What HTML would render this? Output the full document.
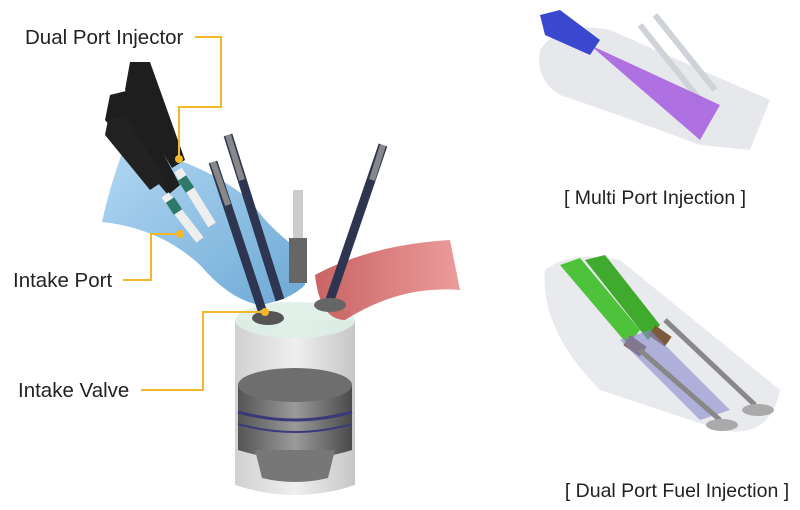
<!DOCTYPE html>
<html><head><meta charset="utf-8"><style>
html,body{margin:0;padding:0;background:#fff;}
svg{display:block;}
text{font-family:"Liberation Sans",sans-serif;fill:#222;}
</style></head><body>
<svg width="800" height="510" viewBox="0 0 800 510" xmlns="http://www.w3.org/2000/svg">
<defs>
<linearGradient id="cyl" x1="0" x2="1"><stop offset="0" stop-color="#c8c8c8"/><stop offset="0.5" stop-color="#ececec"/><stop offset="1" stop-color="#bdbdbd"/></linearGradient>
<linearGradient id="pis" x1="0" x2="1"><stop offset="0" stop-color="#555"/><stop offset="0.5" stop-color="#9a9a9a"/><stop offset="1" stop-color="#4a4a4a"/></linearGradient>
<linearGradient id="blu" x1="0" x2="1" y1="0" y2="1"><stop offset="0" stop-color="#aad4f2"/><stop offset="1" stop-color="#5d9fd0"/></linearGradient>
<linearGradient id="red" x1="0" x2="1"><stop offset="0" stop-color="#c04848"/><stop offset="1" stop-color="#e88a8a"/></linearGradient>
</defs>
<path d="M235 320 L235 485 Q295 505 355 485 L355 320 Z" fill="url(#cyl)" opacity="0.85"/>
<ellipse cx="295" cy="320" rx="60" ry="18" fill="#dfeee8" opacity="0.9"/>
<path d="M238 385 L238 450 Q295 468 352 450 L352 385 Z" fill="url(#pis)"/>
<ellipse cx="295" cy="385" rx="57" ry="17" fill="#6e6e6e"/>
<path d="M238 412 Q295 428 352 412" stroke="#3a3a7a" stroke-width="3" fill="none"/>
<path d="M238 424 Q295 440 352 424" stroke="#3a3a7a" stroke-width="2" fill="none"/>
<path d="M255 450 L262 478 Q295 486 328 478 L335 450 Z" fill="#777"/>
<path d="M125 145 Q110 185 102 222 Q160 228 200 265 Q230 300 260 305 Q290 300 305 285 L300 250 Q270 230 250 200 Q200 160 125 145 Z" fill="url(#blu)" opacity="0.9"/>
<path d="M315 275 Q370 245 450 240 L460 290 Q400 285 345 320 Q320 320 315 275 Z" fill="url(#red)" opacity="0.85"/>
<line x1="213" y1="162" x2="262" y2="310" stroke="#2e3550" stroke-width="9"/>
<line x1="228" y1="135" x2="280" y2="300" stroke="#2e3550" stroke-width="9"/>
<line x1="383" y1="145" x2="330" y2="300" stroke="#2e3550" stroke-width="9"/>
<line x1="213" y1="162" x2="228" y2="205" stroke="#888" stroke-width="6"/>
<line x1="228" y1="135" x2="242" y2="180" stroke="#888" stroke-width="6"/>
<line x1="383" y1="145" x2="372" y2="180" stroke="#888" stroke-width="6"/>
<ellipse cx="268" cy="318" rx="16" ry="7" fill="#555"/>
<ellipse cx="330" cy="305" rx="16" ry="7" fill="#666"/>
<rect x="293" y="190" width="10" height="50" fill="#ccc"/>
<rect x="289" y="238" width="18" height="45" fill="#666"/>
<path d="M130 62 L150 62 L185 160 L172 168 L125 90 Z" fill="#1e1e1e"/>
<path d="M110 95 L130 90 L180 185 L168 195 L105 120 Z" fill="#1e1e1e"/>
<path d="M108 120 L125 115 L165 180 L150 190 L105 135 Z" fill="#222"/>
<line x1="178" y1="170" x2="212" y2="225" stroke="#eee" stroke-width="9"/>
<line x1="165" y1="195" x2="200" y2="240" stroke="#eee" stroke-width="9"/>
<line x1="182" y1="178" x2="190" y2="190" stroke="#2e7a6a" stroke-width="10"/>
<line x1="170" y1="200" x2="178" y2="212" stroke="#2e7a6a" stroke-width="10"/>
<g stroke="#f2b82a" stroke-width="2" fill="none">
<polyline points="195,37 221,37 221,107 179,107 179,159"/>
<polyline points="123,280 151,280 151,234 180,234"/>
<polyline points="141,390 203,390 203,312 265,312"/>
</g>
<g fill="#f2b82a"><circle cx="179" cy="159" r="4"/><circle cx="180" cy="234" r="4"/><circle cx="265" cy="312" r="4"/></g>
<text x="25" y="44" font-size="20.5">Dual Port Injector</text>
<text x="13" y="287" font-size="20.5">Intake Port</text>
<text x="18" y="397" font-size="20.5">Intake Valve</text>
<path d="M540 50 Q560 20 610 30 L770 100 L750 150 L700 145 Q620 115 560 95 Q535 80 540 50 Z" fill="#e4e6ea" opacity="0.9"/>
<path d="M640 25 L700 100 M655 15 L715 90" stroke="#cfd3d8" stroke-width="6"/>
<path d="M590 45 L720 105 L700 140 Z" fill="#a45ae0" opacity="0.85"/>
<path d="M540 15 L560 10 L600 40 L590 55 L545 35 Z" fill="#3a48d0"/>
<text x="655" y="204" font-size="19.5" text-anchor="middle">[ Multi Port Injection ]</text>
<path d="M545 270 Q570 250 620 260 L780 390 Q770 440 720 430 L600 390 Q540 330 545 270 Z" fill="#e6e8ec" opacity="0.9"/>
<path d="M560 265 L580 258 L640 330 L628 345 Z" fill="#4ec23a"/>
<path d="M585 260 L605 255 L660 325 L648 340 Z" fill="#3faa2e"/>
<rect x="625" y="340" width="20" height="12" fill="#7a5a3a" transform="rotate(35 635 346)"/>
<rect x="650" y="330" width="20" height="12" fill="#7a5a3a" transform="rotate(35 660 336)"/>
<path d="M620 340 L700 420 L730 410 L650 330 Z" fill="#8888cc" opacity="0.6"/>
<line x1="640" y1="350" x2="720" y2="420" stroke="#888" stroke-width="5"/>
<line x1="665" y1="320" x2="755" y2="405" stroke="#888" stroke-width="5"/>
<ellipse cx="722" cy="425" rx="16" ry="6" fill="#aaa"/>
<ellipse cx="758" cy="410" rx="16" ry="6" fill="#aaa"/>
<text x="677" y="497" font-size="19.5" text-anchor="middle">[ Dual Port Fuel Injection ]</text>
</svg>
</body></html>
